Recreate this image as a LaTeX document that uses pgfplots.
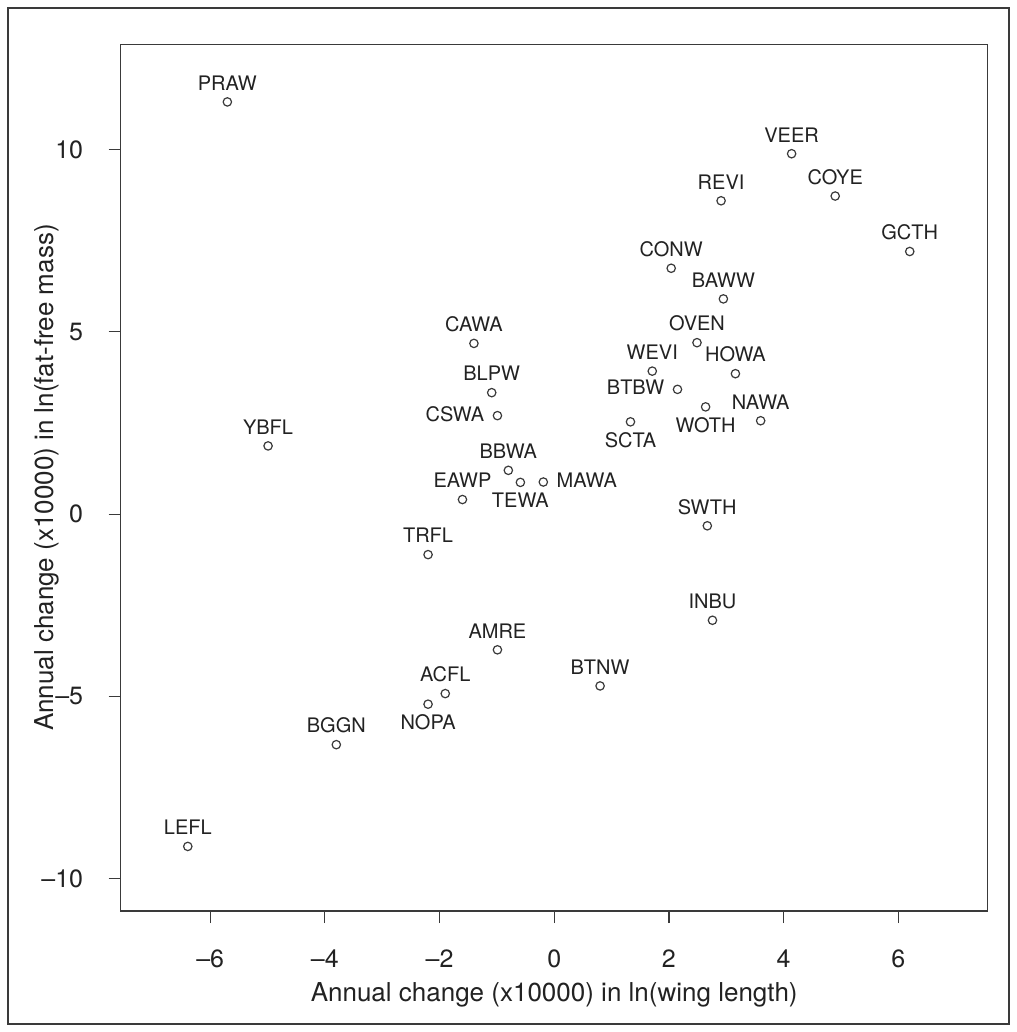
\documentclass[border=0pt]{standalone}
\usepackage{pgfplots}
\pgfplotsset{compat=1.18}
\usepackage{pgfplotstable}
\usepackage{fontspec}
\setmainfont{TeX Gyre Heros}
\definecolor{axgray}{HTML}{3A3A3A}
\definecolor{txt}{HTML}{222222}

\pgfplotstableread{
x y label
-5.70 11.30 PRAW
4.14 9.88 VEER
2.91 8.59 REVI
4.90 8.72 COYE
6.20 7.20 GCTH
2.04 6.74 CONW
2.95 5.90 BAWW
-1.40 4.68 CAWA
2.49 4.70 OVEN
-1.09 3.33 BLPW
1.71 3.92 WEVI
3.16 3.85 HOWA
3.60 2.56 NAWA
-4.99 1.87 YBFL
-0.80 1.20 BBWA
-1.60 0.40 EAWP
2.67 -0.32 SWTH
-2.20 -1.11 TRFL
2.76 -2.91 INBU
-0.99 -3.72 AMRE
0.80 -4.71 BTNW
-1.90 -4.92 ACFL
-3.80 -6.32 BGGN
-6.39 -9.11 LEFL
}\above

\pgfplotstableread{
x y label
2.64 2.94 WOTH
1.33 2.53 SCTA
-0.59 0.87 TEWA
-2.20 -5.21 NOPA
}\below

\pgfplotstableread{
x y label
2.15 3.42 BTBW
-0.99 2.70 CSWA
}\leftlab

\pgfplotstableread{
x y label
-0.19 0.88 MAWA
}\rightlab

\begin{document}
\begin{tikzpicture}[x=1pt,y=1pt]
\useasboundingbox (0,0) rectangle (508,516);
\draw[line width=0.6pt, axgray] (4,4) rectangle (504.5,512);
\begin{axis}[
  at={(60.35pt,60.5pt)}, anchor=south west,
  scale only axis, width=433.5pt, height=433.35pt,
  xmin=-7.56, xmax=7.56, ymin=-10.88, ymax=12.88,
  xtick={-6,-4,-2,0,2,4,6},
  xticklabels={--6,--4,--2,0,2,4,6},
  ytick={-10,-5,0,5,10},
  yticklabels={--10,--5,0,5,10},
  tick pos=left, tick align=outside, major tick length=6pt,
  axis line style={line width=0.6pt, axgray},
  every tick/.style={line width=0.6pt, axgray},
  tick label style={font=\fontsize{12.5}{15}\selectfont, text=txt},
  xticklabel style={anchor=base, inner sep=0pt, yshift=-22pt},
  yticklabel style={anchor=east, inner sep=0pt, xshift=-12.6pt},
  every axis x label/.style={at={(axis description cs:0.5,-0.105)}, anchor=base, font=\fontsize{13}{15}\selectfont, text=txt},
  every axis y label/.style={at={(axis description cs:-0.078,0.5)}, rotate=90, anchor=base, font=\fontsize{13}{15}\selectfont, text=txt},
  xlabel={Annual change (x10000) in ln(wing length)},
  ylabel={Annual change (x10000) in ln(fat-free mass)},
  clip=false,
  every axis plot/.append style={only marks, mark=o, mark size=2.1pt, mark options={line width=0.6pt, draw=axgray}},
  point meta=explicit symbolic,
  nodes near coords,
]
\addplot[nodes near coords style={anchor=base, inner sep=0pt, yshift=5.85pt, font=\fontsize{10}{12}\selectfont, text=txt}] table[x=x,y=y,meta=label] {\above};
\addplot[nodes near coords style={anchor=north, inner sep=0pt, yshift=-5pt, font=\fontsize{10}{12}\selectfont, text=txt}] table[x=x,y=y,meta=label] {\below};
\addplot[nodes near coords style={anchor=east, inner sep=0pt, xshift=-6.35pt, yshift=0.9pt, font=\fontsize{10}{12}\selectfont, text=txt}] table[x=x,y=y,meta=label] {\leftlab};
\addplot[nodes near coords style={anchor=west, inner sep=0pt, xshift=6.35pt, yshift=0.9pt, font=\fontsize{10}{12}\selectfont, text=txt}] table[x=x,y=y,meta=label] {\rightlab};
\end{axis}
\end{tikzpicture}
\end{document}
